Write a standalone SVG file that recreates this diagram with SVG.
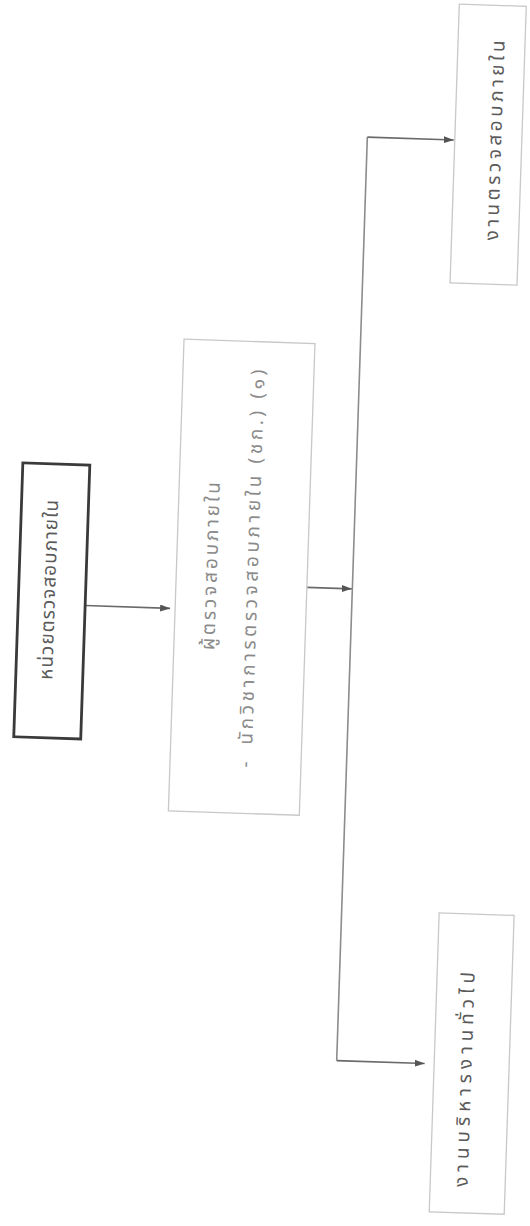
<svg xmlns="http://www.w3.org/2000/svg" width="530" height="1226" viewBox="0 0 530 1226">
<style>
.lbl{font-family:"Noto Sans Thai","Noto Sans","DejaVu Sans",sans-serif;font-size:19px;fill:#5a5a5a;dominant-baseline:central}
.lt{fill:#8a8a8a}
.box{fill:#fff;stroke:#c8c8c8;stroke-width:1.3}
.box1{fill:#fff;stroke:#3a3a3a;stroke-width:2.8}
.conn{fill:none;stroke:#6a6a6a;stroke-width:1.6}
.spine{fill:none;stroke:#8c8c8c;stroke-width:1.6}
</style>
<defs>
<marker id="ah" viewBox="0 0 10 7" refX="10" refY="3.5" markerWidth="10" markerHeight="7" markerUnits="userSpaceOnUse" orient="auto"><path d="M0,0 L10,3.5 L0,7 z" fill="#555"/></marker>
</defs>
<rect width="530" height="1226" fill="#fff"/>
<g transform="rotate(1.9 265 613)">
<g id="connectors">
<line class="conn" x1="85" y1="611.5" x2="170" y2="611.5" marker-end="url(#ah)"/>
<line class="conn" x1="306" y1="586" x2="351" y2="586" marker-end="url(#ah)"/>
<path class="spine" d="M351.5,134 V1058"/>
<path class="conn" d="M351.5,134 H438" marker-end="url(#ah)"/>
<path class="conn" d="M351.5,1058 H439.5" marker-end="url(#ah)"/>
</g>
<g id="n1"><rect class="box1" x="18" y="471" width="67" height="274"/><text class="lbl" transform="translate(49,687) rotate(-90)" textLength="180" lengthAdjust="spacing">หน่วยตรวจสอบภายใน</text></g>
<g id="n2"><rect class="box" x="175" y="342" width="131" height="472"/>
<text class="lbl lt" transform="translate(210,652) rotate(-90)" textLength="168" lengthAdjust="spacing">ผู้ตรวจสอบภายใน</text>
<text class="lbl lt" transform="translate(251,768) rotate(-90)">-</text>
<text class="lbl lt" transform="translate(251,745) rotate(-90)" textLength="375" lengthAdjust="spacing">นักวิชาการตรวจสอบภายใน (ชก.) (๑)</text>
</g>
<g id="n3"><rect class="box" x="439" y="-2" width="67" height="279"/><text class="lbl" transform="translate(480,233) rotate(-90)" textLength="200" lengthAdjust="spacing">งานตรวจสอบภายใน</text></g>
<g id="n4"><rect class="box" x="449" y="907" width="75" height="299"/><text class="lbl" transform="translate(481,1180) rotate(-90)" textLength="215" lengthAdjust="spacing">งานบริหารงานทั่วไป</text></g>
</g>
</svg>
